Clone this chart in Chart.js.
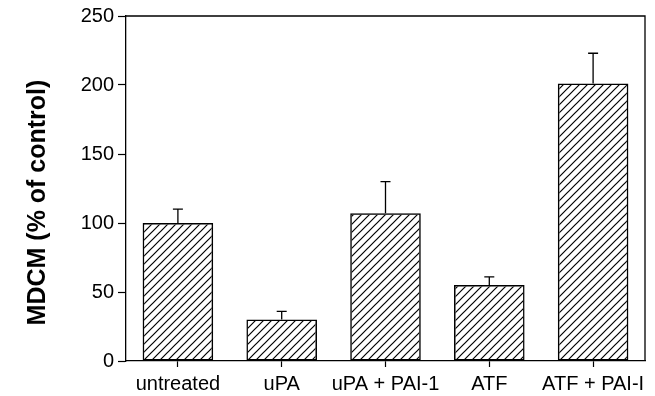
<!DOCTYPE html>
<html>
<head>
<meta charset="utf-8">
<script src="https://cdn.jsdelivr.net/npm/chart.js@4"></script>
<style>
  html, body { margin: 0; padding: 0; background: #fff; }
  #wrap { width: 655px; height: 396px; }
</style>
</head>
<body>
<div id="wrap"><canvas id="mdcm-chart"></canvas></div>
<script>
var labels = ["untreated", "uPA", "uPA + PAI-1", "ATF", "ATF + PAI-I"];
var values = [100, 30, 107, 55, 201];
var errors = [10, 6, 23, 6, 22];
var yTicks = [0, 50, 100, 150, 200, 250];
var yTitle = "MDCM (% of control)";

// diagonal hatch fill
function makeHatch() {
    var c = document.createElement("canvas");
    c.width = 8;
    c.height = 8;
    var g = c.getContext("2d");
    g.strokeStyle = "#000";
    g.lineWidth = 1.2;
    g.beginPath();
    g.moveTo(0, 8); g.lineTo(8, 0);
    g.moveTo(-2, 2); g.lineTo(2, -2);
    g.moveTo(6, 10); g.lineTo(10, 6);
    g.stroke();
    return g.createPattern(c, "repeat");
}

var errorBars = {
    id: "errorBars",
    afterDatasetsDraw: function(chart) {
        var ctx = chart.ctx;
        var yScale = chart.scales.y;
        var meta = chart.getDatasetMeta(0);
        ctx.save();
        ctx.strokeStyle = "#000";
        ctx.lineWidth = 1.3;
        meta.data.forEach(function(bar, i) {
            var top = yScale.getPixelForValue(values[i] + errors[i]);
            ctx.beginPath();
            ctx.moveTo(bar.x, bar.y);
            ctx.lineTo(bar.x, top);
            ctx.moveTo(bar.x - 5, top);
            ctx.lineTo(bar.x + 5, top);
            ctx.stroke();
        });
        ctx.restore();
    }
};

// top/right frame + the y title (sits a bit below the axis centre in the original)
var frame = {
    id: "frame",
    afterDraw: function(chart) {
        var a = chart.chartArea;
        var ctx = chart.ctx;
        ctx.save();
        ctx.strokeStyle = "#000";
        ctx.lineWidth = 1.3;
        ctx.beginPath();
        ctx.moveTo(a.left, a.top);
        ctx.lineTo(a.right, a.top);
        ctx.lineTo(a.right, a.bottom);
        ctx.stroke();

        ctx.translate(38, (a.top + a.bottom) / 2 + 14);
        ctx.rotate(-Math.PI / 2);
        ctx.fillStyle = "#000";
        ctx.font = "bold 25px 'Liberation Sans', Arial, sans-serif";
        ctx.textAlign = "center";
        ctx.textBaseline = "middle";
        ctx.fillText(yTitle, 0, 0);
        ctx.restore();
    }
};

var ctx = document.getElementById("mdcm-chart");
var chartGraph = new Chart(ctx, {
    type: "bar",
    data: {
        labels: labels,
        datasets: [
            {
                label: "MDCM",
                data: values,
                backgroundColor: makeHatch(),
                borderColor: "#000",
                borderWidth: 1.5,
                borderSkipped: false,
                barPercentage: 0.68,
                categoryPercentage: 1.0,
            }
        ],
    },
    options: {
        responsive: true,
        maintainAspectRatio: false,
        animation: false,
        layout: { padding: { top: 15, right: 10, left: 0, bottom: 0 } },
        plugins: {
            legend: { display: false },
            tooltip: { enabled: false },
        },
        scales: {
            x: {
                offset: true,
                afterFit: function(axis) { axis.height = 35; },
                grid: {
                    offset: false,
                    drawOnChartArea: false,
                    drawTicks: true,
                    tickLength: 6,
                    tickColor: "#000",
                    tickWidth: 1.2,
                },
                border: { display: true, color: "#000", width: 1.3 },
                ticks: {
                    color: "#000",
                    padding: 5,
                    maxRotation: 0,
                    autoSkip: false,
                    font: { family: "'Liberation Sans', Arial, sans-serif", size: 20 },
                },
            },
            y: {
                min: 0,
                max: 250,
                afterFit: function(axis) { axis.width = 126; },
                afterBuildTicks: function(axis) {
                    axis.ticks = yTicks.map(function(v) { return { value: v }; });
                },
                grid: {
                    drawOnChartArea: false,
                    drawTicks: true,
                    tickLength: 8,
                    tickColor: "#000",
                    tickWidth: 1.2,
                },
                border: { display: true, color: "#000", width: 1.3 },
                ticks: {
                    color: "#000",
                    padding: 4,
                    font: { family: "'Liberation Sans', Arial, sans-serif", size: 20 },
                },
            },
        },
    },
    plugins: [errorBars, frame],
});
</script>
</body>
</html>
